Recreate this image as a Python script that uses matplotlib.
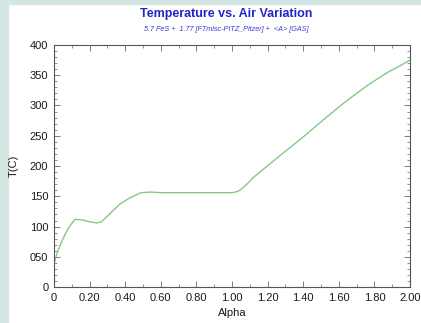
import numpy as np
import matplotlib.pyplot as plt
from matplotlib.ticker import MultipleLocator
from matplotlib.patches import Rectangle

# data
alpha = [0.0, 0.02, 0.043, 0.08, 0.118, 0.16, 0.20, 0.24, 0.268, 0.31, 0.37, 0.43,
         0.49, 0.54, 0.60, 0.80, 0.998, 1.02, 1.045, 1.08, 1.12, 1.26, 1.40,
         1.52, 1.645, 1.76, 1.87, 1.94, 2.0]
temp = [38, 58, 75, 97, 112, 111, 108, 106, 108, 120, 137, 148,
        156, 157, 156, 156, 156, 157, 160, 169, 181, 215, 248,
        278, 308, 333, 354, 365, 375]

title = "Temperature vs. Air Variation"
subtitle = "5.7 FeS +  1.77 [FTmisc-PITZ_Pitzer] +  <A> [GAS]"
xticks = np.arange(0, 2.01, 0.2)
xlabels = ["0"] + ["%.2f" % v for v in xticks[1:]]
yticks = np.arange(0, 401, 50)
ylabels = ["0"] + ["%03d" % v for v in yticks[1:]]

plt.rcParams['font.family'] = ['Liberation Sans', 'DejaVu Sans']

fig = plt.figure(figsize=(4.21, 3.23), dpi=100)
fig.patch.set_facecolor('white')
# slide background strips
fig.patches.append(Rectangle((0, 0), 0.02, 1, transform=fig.transFigure,
                             color='#d3e6e4', zorder=-1))
fig.patches.append(Rectangle((0, 0.987), 1, 0.013, transform=fig.transFigure,
                             color='#d3e6e4', zorder=-1))

ax = fig.add_axes([0.128, 0.111, 0.846, 0.750])
ax.plot(alpha, temp, color='#86c886', lw=1.0)

ax.set_xlim(0, 2.0)
ax.set_ylim(0, 400)
ax.set_xticks(xticks)
ax.set_xticklabels(xlabels)
ax.set_yticks(yticks)
ax.set_yticklabels(ylabels)
ax.xaxis.set_minor_locator(MultipleLocator(0.1))
ax.yaxis.set_minor_locator(MultipleLocator(10))
ax.tick_params(which='both', direction='in', top=True, right=True,
               colors='#666666', labelcolor='#1a1a1a', labelsize=8)
ax.tick_params(which='major', length=4, width=0.6, pad=4)
ax.tick_params(which='minor', length=2, width=0.5)
for s in ax.spines.values():
    s.set_color('#555555')
    s.set_linewidth(0.8)

ax.set_xlabel("Alpha", fontsize=8, color='#1a1a1a', labelpad=4)
ax.set_ylabel("T(C)", fontsize=8, color='#1a1a1a', labelpad=8)

fig.text(0.537, 0.958, title, ha='center', va='center', fontsize=9,
         fontweight='bold', color='#2424c8')
fig.text(0.537, 0.908, subtitle, ha='center', va='center', fontsize=5.2,
         style='italic', color='#3a3ad0')

fig.savefig('out.png', dpi=100)
